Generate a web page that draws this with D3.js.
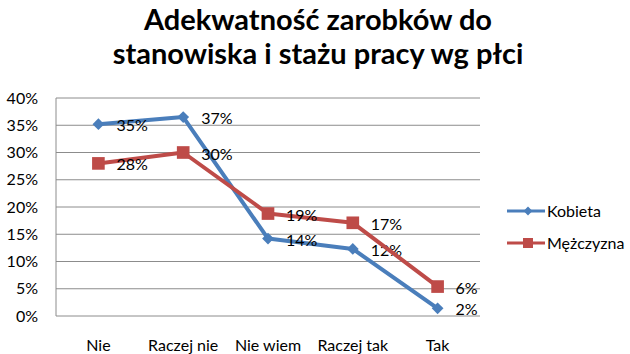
<!DOCTYPE html>
<html>
<head>
<meta charset="utf-8">
<script src="https://cdn.jsdelivr.net/npm/d3@7"></script>
<style>
  body { margin: 0; background: #fff; }
  text { font-family: Lato, "Open Sans", sans-serif; fill: #000; }
</style>
</head>
<body>
<div id="chart"></div>
<script>
// answers on the x axis
const categories = ["Nie", "Raczej nie", "Nie wiem", "Raczej tak", "Tak"];
// shares per gender
const kobieta = [0.352, 0.365, 0.142, 0.123, 0.014];
const mezczyzna = [0.280, 0.300, 0.188, 0.171, 0.054];
const seriesNames = ["Kobieta", "Mężczyzna"];
const labelsKobieta = ["35%", "37%", "14%", "12%", "2%"];
const labelsMezczyzna = ["28%", "30%", "19%", "17%", "6%"];
const yTicks = [0, 0.05, 0.1, 0.15, 0.2, 0.25, 0.3, 0.35, 0.4];

const svgWidth = 630, svgHeight = 354;
const margin = { top: 98, right: 150, bottom: 38, left: 56 };
const width = svgWidth - margin.left - margin.right;
const height = svgHeight - margin.top - margin.bottom;

const colors = { Kobieta: "#4a7ebb", "Mężczyzna": "#be4b48" };

const series = [
  { name: seriesNames[0], values: kobieta, labels: labelsKobieta, shape: d3.symbolDiamond2, size: 88, legendSize: 50 },
  { name: seriesNames[1], values: mezczyzna, labels: labelsMezczyzna, shape: d3.symbolSquare, size: 160, legendSize: 100 }
];

const svg = d3.select("#chart").append("svg")
  .attr("width", svgWidth)
  .attr("height", svgHeight);

// title, two lines
const title = svg.append("text")
  .attr("text-anchor", "middle")
  .attr("font-size", 29)
  .attr("font-weight", "bold");
title.append("tspan").attr("x", 318).attr("y", 30).text("Adekwatność zarobków do");
title.append("tspan").attr("x", 318).attr("y", 64).text("stanowiska i stażu pracy wg płci");

const chart = svg.append("g")
  .attr("transform", `translate(${margin.left},${margin.top})`);

const x = d3.scaleBand().domain(categories).range([0, width]);
const y = d3.scaleLinear().domain([0, 0.4]).range([height, 0]);

// gridlines
chart.append("g")
  .selectAll("line")
  .data(yTicks)
  .join("line")
  .attr("x1", 0).attr("x2", width)
  .attr("y1", d => y(d)).attr("y2", d => y(d))
  .attr("stroke", "#8c8c8c")
  .attr("stroke-width", 1);

chart.append("line")
  .attr("x1", 0).attr("x2", 0)
  .attr("y1", 0).attr("y2", height)
  .attr("stroke", "#8c8c8c");

// y axis labels
chart.append("g")
  .call(d3.axisLeft(y).tickValues(yTicks).tickFormat(d3.format(".0%")).tickSize(0).tickPadding(18))
  .call(g => g.select(".domain").remove())
  .selectAll("text")
  .attr("font-size", 16)
  .attr("font-family", "Lato, 'Open Sans', sans-serif");

// x axis labels
chart.append("g")
  .attr("transform", `translate(0,${height})`)
  .call(d3.axisBottom(x).tickSize(0).tickPadding(24))
  .call(g => g.select(".domain").remove())
  .selectAll("text")
  .attr("font-size", 16)
  .attr("font-family", "Lato, 'Open Sans', sans-serif");

const cx = d => x(d) + x.bandwidth() / 2;

const line = d3.line()
  .x((d, i) => cx(categories[i]))
  .y(d => y(d));

series.forEach(s => {
  const g = chart.append("g");
  g.append("path")
    .datum(s.values)
    .attr("fill", "none")
    .attr("stroke", colors[s.name])
    .attr("stroke-width", 4)
    .attr("stroke-linejoin", "round")
    .attr("d", line);

  g.selectAll(".marker")
    .data(s.values)
    .join("path")
    .attr("class", "marker")
    .attr("transform", (d, i) => `translate(${cx(categories[i])},${y(d)})`)
    .attr("d", d3.symbol().type(s.shape).size(s.size))
    .attr("fill", colors[s.name]);

  g.selectAll(".lbl")
    .data(s.values)
    .join("text")
    .attr("class", "lbl")
    .attr("x", (d, i) => cx(categories[i]) + 18)
    .attr("y", d => y(d) + 7)
    .attr("font-size", 16)
    .text((d, i) => s.labels[i]);
});

// legend
const legend = svg.append("g")
  .attr("transform", "translate(507,211)");

series.forEach((s, i) => {
  const row = legend.append("g").attr("transform", `translate(0,${i * 32})`);
  row.append("line")
    .attr("x1", 0).attr("x2", 38)
    .attr("stroke", colors[s.name])
    .attr("stroke-width", 3);
  row.append("path")
    .attr("transform", "translate(21,0)")
    .attr("d", d3.symbol().type(s.shape).size(s.legendSize))
    .attr("fill", colors[s.name]);
  row.append("text")
    .attr("x", 40)
    .attr("y", 6)
    .attr("font-size", 16)
    .text(s.name);
});
</script>
</body>
</html>
